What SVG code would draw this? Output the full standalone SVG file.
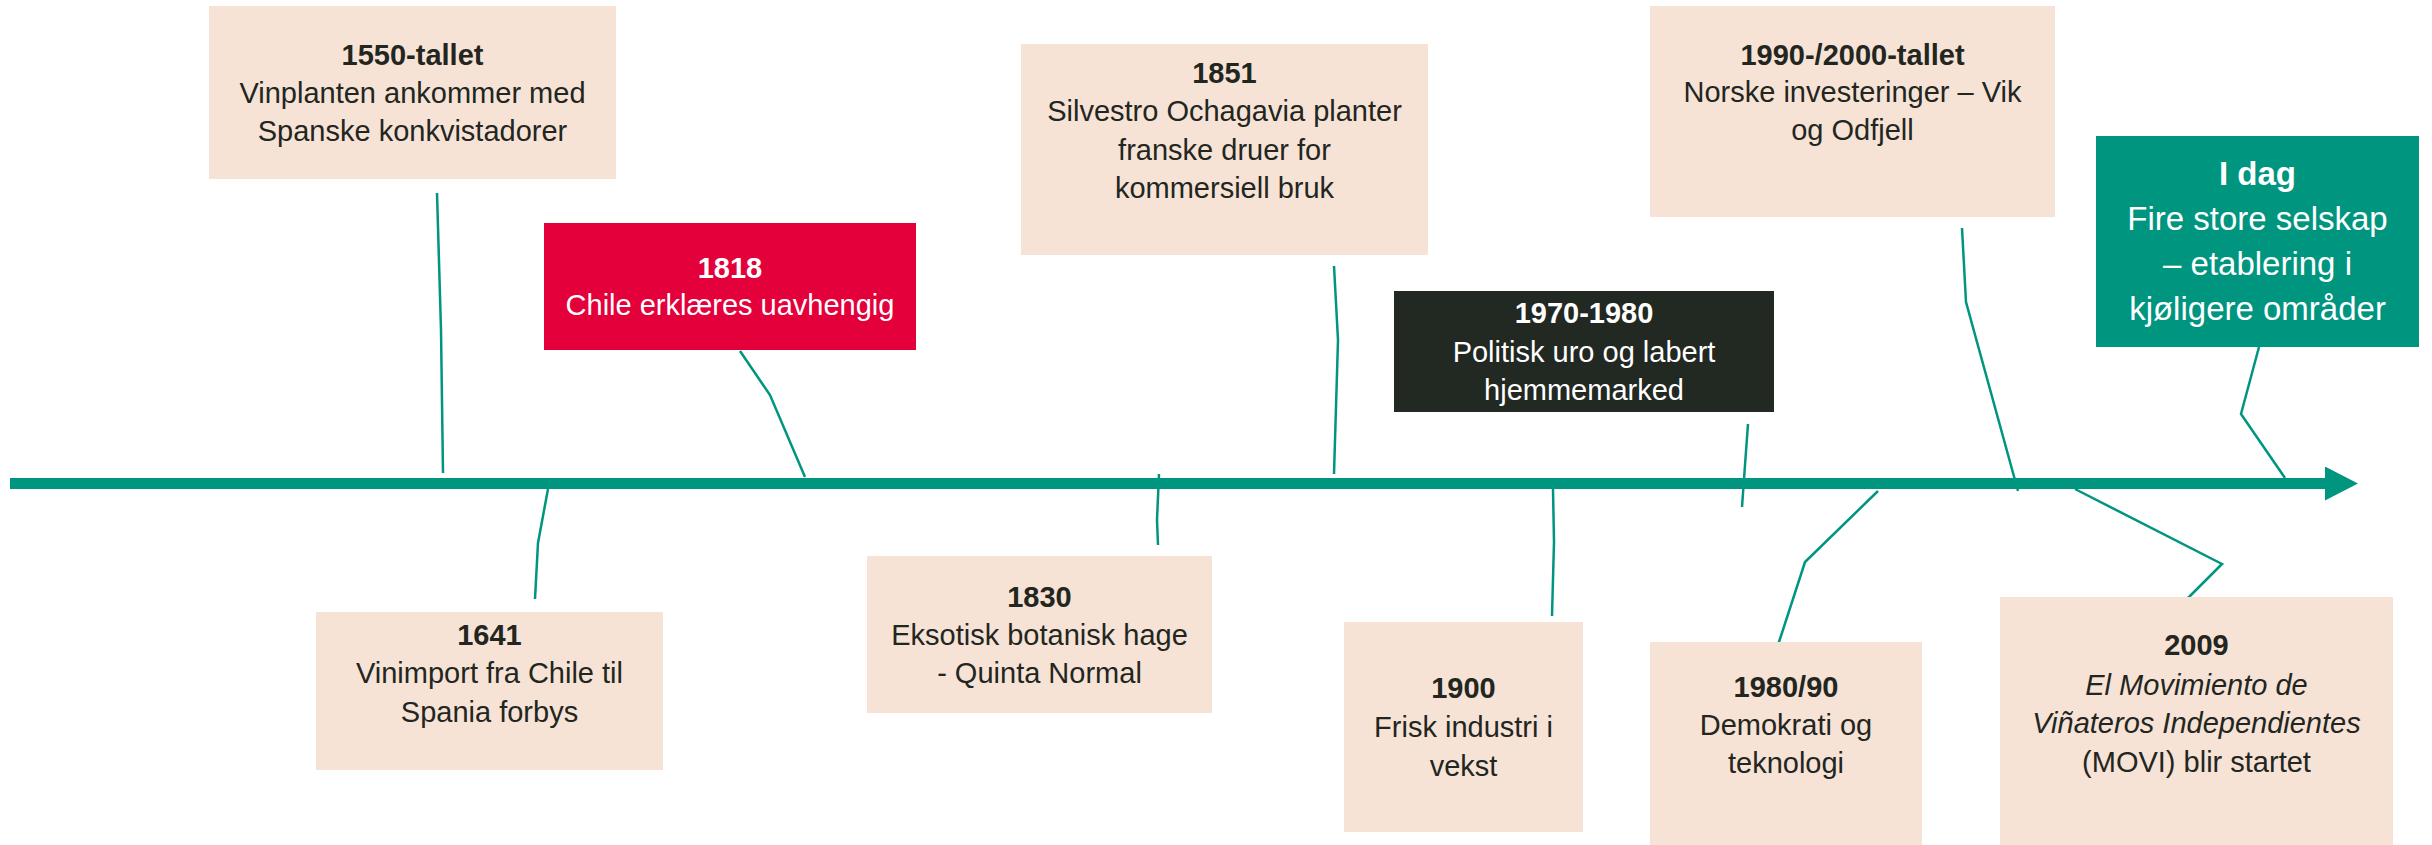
<svg xmlns="http://www.w3.org/2000/svg" width="2432" height="845" viewBox="0 0 2432 845">
  <style>
    .beige { fill: #F6E3D6; }
    .red { fill: #E4003B; }
    .dark { fill: #222822; }
    .teal { fill: #00957F; }
    text { font-family: "Liberation Sans", Arial, sans-serif; font-size: 29px; text-anchor: middle; fill: #23261F; }
    .t { font-weight: bold; }
    .w { fill: #FFFFFF; }
    .big { font-size: 33px; }
    .i { font-style: italic; }
    .conn { fill: none; stroke: #00957F; stroke-width: 2.5; stroke-linejoin: miter; }
  </style>
  <defs>
    <marker id="arrow" markerUnits="userSpaceOnUse" markerWidth="34" markerHeight="36" refX="0" refY="17" orient="auto">
      <path d="M0,0 L33,17 L0,34 Z" fill="#00957F"/>
    </marker>
  </defs>

  <g id="timeline">
    <line x1="10" y1="483.5" x2="2325" y2="483.5" stroke="#00957F" stroke-width="11" marker-end="url(#arrow)"/>
  </g>

  <g id="connectors">
    <polyline class="conn" points="437,193 441,330 443,473"/>
    <polyline class="conn" points="740,351 770,395 805,477"/>
    <polyline class="conn" points="548,489 538,543 535,599"/>
    <polyline class="conn" points="1334,266 1338,340 1334,474"/>
    <polyline class="conn" points="1159,474 1157,520 1158,545"/>
    <polyline class="conn" points="1553,489 1554,542 1552,616"/>
    <polyline class="conn" points="1748,424 1745,465 1742,507"/>
    <polyline class="conn" points="1878,491 1805,562 1778,645"/>
    <polyline class="conn" points="1962,228 1966,302 2018,491"/>
    <polyline class="conn" points="2259,347 2241,414 2285,478"/>
    <polyline class="conn" points="2075,489 2222,564 2185,601"/>
  </g>

  <g id="n1550">
    <rect class="beige" x="209" y="6" width="407" height="173"/>
    <text class="t" x="412.5" y="65">1550-tallet</text>
    <text x="412.5" y="103">Vinplanten ankommer med</text>
    <text x="412.5" y="141">Spanske konkvistadorer</text>
  </g>

  <g id="n1818">
    <rect class="red" x="544" y="223" width="372" height="127"/>
    <text class="t w" x="730" y="278">1818</text>
    <text class="w" x="730" y="315">Chile erklæres uavhengig</text>
  </g>

  <g id="n1641">
    <rect class="beige" x="316" y="612" width="347" height="158"/>
    <text class="t" x="489.5" y="645">1641</text>
    <text x="489.5" y="683">Vinimport fra Chile til</text>
    <text x="489.5" y="722">Spania forbys</text>
  </g>

  <g id="n1851">
    <rect class="beige" x="1021" y="44" width="407" height="211"/>
    <text class="t" x="1224.5" y="83">1851</text>
    <text x="1224.5" y="121">Silvestro Ochagavia planter</text>
    <text x="1224.5" y="160">franske druer for</text>
    <text x="1224.5" y="198">kommersiell bruk</text>
  </g>

  <g id="n1830">
    <rect class="beige" x="867" y="556" width="345" height="157"/>
    <text class="t" x="1039.5" y="607">1830</text>
    <text x="1039.5" y="645">Eksotisk botanisk hage</text>
    <text x="1039.5" y="683">- Quinta Normal</text>
  </g>

  <g id="n1970">
    <rect class="dark" x="1394" y="291" width="380" height="121"/>
    <text class="t w" x="1584" y="323">1970-1980</text>
    <text class="w" x="1584" y="362">Politisk uro og labert</text>
    <text class="w" x="1584" y="400">hjemmemarked</text>
  </g>

  <g id="n1900">
    <rect class="beige" x="1344" y="622" width="239" height="210"/>
    <text class="t" x="1463.5" y="698">1900</text>
    <text x="1463.5" y="737">Frisk industri i</text>
    <text x="1463.5" y="776">vekst</text>
  </g>

  <g id="n1990">
    <rect class="beige" x="1650" y="6" width="405" height="211"/>
    <text class="t" x="1852.5" y="65">1990-/2000-tallet</text>
    <text x="1852.5" y="102">Norske investeringer – Vik</text>
    <text x="1852.5" y="140">og Odfjell</text>
  </g>

  <g id="n1980">
    <rect class="beige" x="1650" y="642" width="272" height="203"/>
    <text class="t" x="1786" y="697">1980/90</text>
    <text x="1786" y="735">Demokrati og</text>
    <text x="1786" y="773">teknologi</text>
  </g>

  <g id="nIdag">
    <rect class="teal" x="2096" y="136" width="323" height="211"/>
    <text class="t w big" x="2257.5" y="185">I dag</text>
    <text class="w big" x="2257.5" y="230">Fire store selskap</text>
    <text class="w big" x="2257.5" y="275">– etablering i</text>
    <text class="w big" x="2257.5" y="320">kjøligere områder</text>
  </g>

  <g id="n2009">
    <rect class="beige" x="2000" y="597" width="393" height="248"/>
    <text class="t" x="2196.5" y="655">2009</text>
    <text class="i" x="2196.5" y="695">El Movimiento de</text>
    <text class="i" x="2196.5" y="733">Viñateros Independientes</text>
    <text x="2196.5" y="772">(MOVI) blir startet</text>
  </g>
</svg>
